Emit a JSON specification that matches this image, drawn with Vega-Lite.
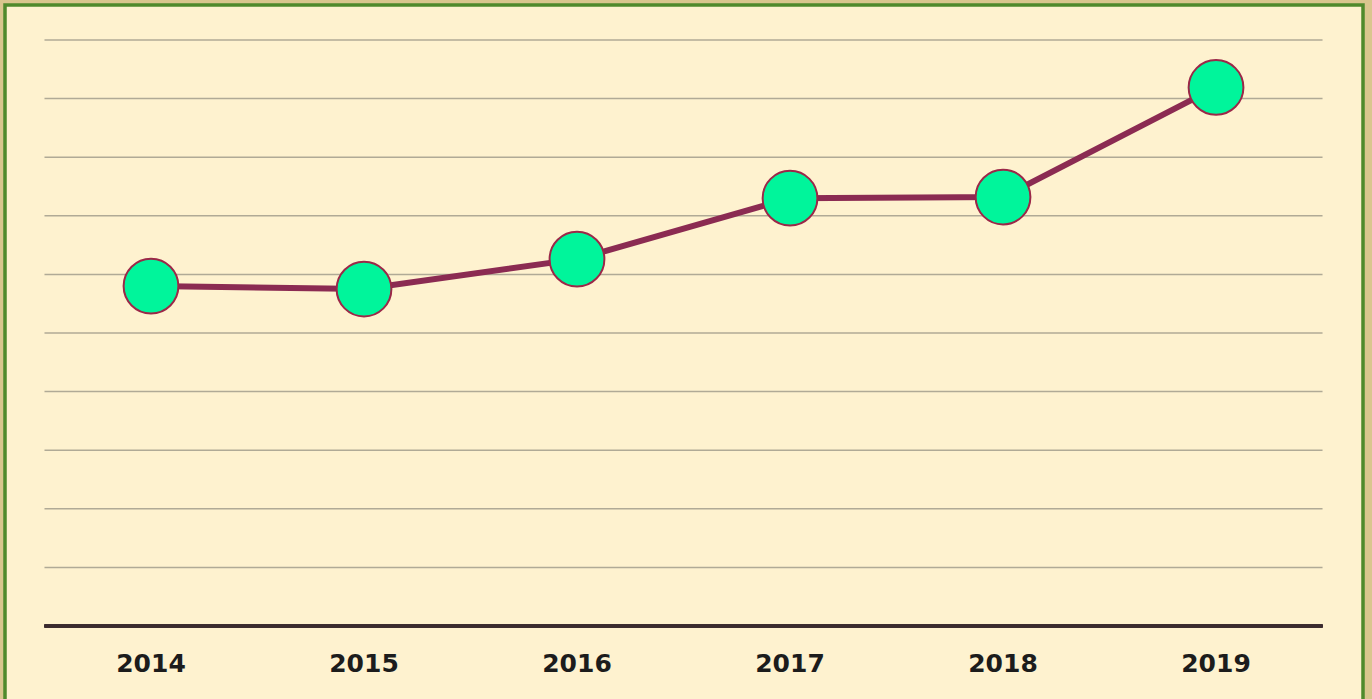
{
  "$schema": "https://vega.github.io/schema/vega-lite/v6.json",
  "width": 1358,
  "height": 700,
  "autosize": {"type": "none"},
  "padding": {"left": 5, "top": 5, "right": 9, "bottom": 0},
  "background": "#D9C68E",
  "config": {"view": {"fill": "#FEF2CF", "stroke": "#4F8A2C", "strokeWidth": 3.5}},
  "datasets": {
    "series": [
      {"year": 2014, "label": "2014", "value": 5.80},
      {"year": 2015, "label": "2015", "value": 5.75},
      {"year": 2016, "label": "2016", "value": 6.26},
      {"year": 2017, "label": "2017", "value": 7.30},
      {"year": 2018, "label": "2018", "value": 7.32},
      {"year": 2019, "label": "2019", "value": 9.19}
    ],
    "grid": [
      {"tick": 1}, {"tick": 2}, {"tick": 3}, {"tick": 4}, {"tick": 5},
      {"tick": 6}, {"tick": 7}, {"tick": 8}, {"tick": 9}, {"tick": 10}
    ]
  },
  "layer": [
    {
      "data": {"name": "grid"},
      "mark": {"type": "rule", "color": "#B0AA96", "strokeWidth": 1.5},
      "encoding": {
        "x": {"datum": 2013.5, "type": "quantitative", "scale": {"domain": [2013.3146, 2019.69], "nice": false, "zero": false}, "axis": null},
        "x2": {"datum": 2019.5},
        "y": {"field": "tick", "type": "quantitative", "scale": {"domain": [-1.348, 10.597], "nice": false, "zero": false}, "axis": null}
      }
    },
    {
      "data": {"name": "series"},
      "mark": {"type": "rule", "color": "#3B2B2E", "strokeWidth": 3},
      "encoding": {
        "x": {"datum": 2013.5, "type": "quantitative", "scale": {"domain": [2013.3146, 2019.69], "nice": false, "zero": false}, "axis": null},
        "x2": {"datum": 2019.5},
        "y": {"datum": 0, "type": "quantitative", "scale": {"domain": [-1.348, 10.597], "nice": false, "zero": false}, "axis": null}
      }
    },
    {
      "data": {"name": "series"},
      "mark": {"type": "text", "font": "DejaVu Sans", "fontWeight": "bold", "fontSize": 25, "color": "#1C1C1C", "baseline": "middle", "align": "center"},
      "encoding": {
        "x": {"field": "year", "type": "quantitative", "scale": {"domain": [2013.3146, 2019.69], "nice": false, "zero": false}, "axis": null},
        "y": {"datum": -0.648, "type": "quantitative", "scale": {"domain": [-1.348, 10.597], "nice": false, "zero": false}, "axis": null},
        "text": {"field": "label"}
      }
    },
    {
      "data": {"name": "series"},
      "mark": {"type": "line", "color": "#8B2B52", "strokeWidth": 6},
      "encoding": {
        "x": {"field": "year", "type": "quantitative", "scale": {"domain": [2013.3146, 2019.69], "nice": false, "zero": false}, "axis": null},
        "y": {"field": "value", "type": "quantitative", "scale": {"domain": [-1.348, 10.597], "nice": false, "zero": false}, "axis": null}
      }
    },
    {
      "data": {"name": "series"},
      "mark": {"type": "point", "shape": "circle", "filled": true, "fill": "#00F59B", "stroke": "#9B2848", "strokeWidth": 2, "size": 3000, "opacity": 1},
      "encoding": {
        "x": {"field": "year", "type": "quantitative", "scale": {"domain": [2013.3146, 2019.69], "nice": false, "zero": false}, "axis": null},
        "y": {"field": "value", "type": "quantitative", "scale": {"domain": [-1.348, 10.597], "nice": false, "zero": false}, "axis": null}
      }
    }
  ]
}
